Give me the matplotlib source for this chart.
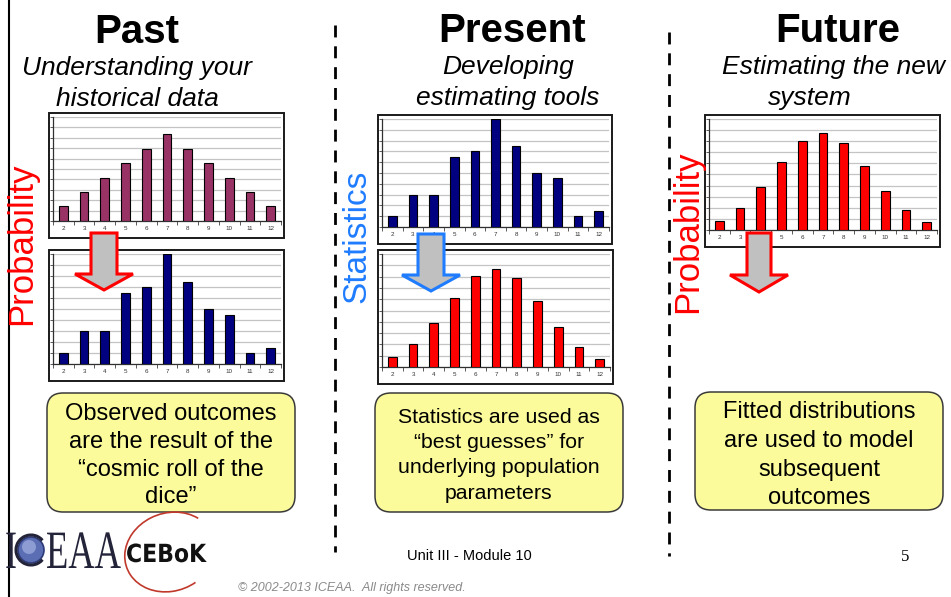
import matplotlib
matplotlib.use("Agg")
import matplotlib.pyplot as plt
import numpy as np
from matplotlib.patches import Rectangle, FancyBboxPatch, Polygon, Circle, Arc, PathPatch
from matplotlib.textpath import TextPath
from matplotlib.font_manager import FontProperties
from matplotlib.transforms import Affine2D

plt.rcParams['font.family'] = ['Liberation Sans', 'DejaVu Sans']

# ---- data -------------------------------------------------------------
dice_sums = ['2', '3', '4', '5', '6', '7', '8', '9', '10', '11', '12']
# theoretical probabilities of the sum of two dice
historical = [0.028, 0.056, 0.083, 0.111, 0.139, 0.167, 0.139, 0.111, 0.083, 0.056, 0.028]
# observed relative frequencies (100 rolls)
observed = [0.02, 0.06, 0.06, 0.13, 0.14, 0.20, 0.15, 0.10, 0.09, 0.02, 0.03]
# fitted distribution
fitted = [0.017, 0.040, 0.077, 0.122, 0.161, 0.174, 0.157, 0.116, 0.071, 0.036, 0.015]

W, H = 951, 597
fig = plt.figure(figsize=(W / 100, H / 100), dpi=100)
fig.patch.set_facecolor('white')


def overlay(z):
    ax = fig.add_axes([0, 0, 1, 1], zorder=z)
    ax.set_xlim(0, W)
    ax.set_ylim(H, 0)
    ax.axis('off')
    return ax


bg = overlay(0)
fg = overlay(5)


def frac(x0, y0, x1, y1):
    return [x0 / W, 1 - y1 / H, (x1 - x0) / W, (y1 - y0) / H]


def bar_panel(box, values, color):
    x0, y0, x1, y1 = box
    bg.add_patch(Rectangle((x0, y0), x1 - x0, y1 - y0, facecolor='white',
                           edgecolor='#1a1a1a', lw=1.4, zorder=3))
    ax = fig.add_axes(frac(x0 + 4, y0 + 4, x1 - 3, y1 - 17), zorder=1)
    ax.patch.set_alpha(0)
    pos = np.arange(len(dice_sums))
    ax.bar(pos, values, width=0.42, color=color, edgecolor='black', linewidth=0.8, zorder=3)
    ax.set_xlim(-0.5, len(dice_sums) - 0.5)
    ax.set_ylim(0, 0.2)
    ax.set_yticks(np.linspace(0, 0.2, 11))
    ax.yaxis.grid(True, color='#c4c4c4', lw=0.9)
    ax.set_axisbelow(True)
    ax.tick_params(axis='y', length=2.5, width=0.6, color='#404040',
                   labelleft=False, direction='out')
    ax.set_xticks(pos)
    ax.set_xticklabels(dice_sums, fontsize=4.5, color='#333333')
    ax.set_xticks(np.arange(-0.5, len(dice_sums)), minor=True)
    ax.tick_params(axis='x', which='major', length=0, pad=3.5)
    ax.tick_params(axis='x', which='minor', length=3, width=0.6, color='#404040')
    for s in ('top', 'right'):
        ax.spines[s].set_visible(False)
    for s in ('left', 'bottom'):
        ax.spines[s].set_color('#303030')
        ax.spines[s].set_linewidth(0.9)
    return ax


def down_arrow(xl, xr, yt, yh, hl, hr, ytip, edge):
    xc = (xl + xr) / 2
    pts = [(xl, yt), (xr, yt), (xr, yh), (hr, yh), (xc, ytip), (hl, yh), (xl, yh)]
    fg.add_patch(Polygon(pts, closed=True, facecolor='#c0c0c0', edgecolor=edge,
                         lw=2.2, joinstyle='miter', zorder=6))


def callout(x0, y0, x1, y1, lines, baselines, size):
    bg.add_patch(FancyBboxPatch((x0, y0), x1 - x0, y1 - y0,
                                boxstyle='round,pad=0,rounding_size=16',
                                facecolor='#fbfb9c', edgecolor='#3a3a3a', lw=1.1, zorder=4))
    xc = (x0 + x1) / 2
    for txt, yb in zip(lines, baselines):
        bg.text(xc, yb, txt, ha='center', va='baseline', fontsize=size,
                color='black', zorder=5)


# ---- frame and separators ------------------------------------------
bg.plot([9, 9], [0, H], color='black', lw=1.5, zorder=2)
bg.plot([334.5, 334.5], [25, 552], color='black', lw=2, linestyle=(0, (4.3, 3.2)), zorder=2)
bg.plot([668.5, 668.5], [32, 556], color='black', lw=2, linestyle=(0, (4.3, 3.2)), zorder=2)

# ---- headings ---------------------------------------------------------
for x, yb, t in [(137, 43, 'Past'), (512, 42, 'Present'), (838, 42, 'Future')]:
    bg.text(x, yb, t, ha='center', va='baseline', fontsize=29, fontweight='bold')

sub = dict(va='baseline', fontsize=19, style='italic')
bg.text(137, 75, 'Understanding your', ha='center', **sub)
bg.text(137, 106, 'historical data', ha='center', **sub)
bg.text(508, 74, 'Developing', ha='center', **sub)
bg.text(508, 105, 'estimating tools', ha='center', **sub)
bg.text(722, 74, 'Estimating the new', ha='left', **sub)
bg.text(810, 105, 'system', ha='center', **sub)

# ---- bar charts -----------------------------------------------------
bar_panel((49, 113, 284, 238), historical, '#993366')
bar_panel((49, 250, 284, 381), observed, '#000080')
bar_panel((378, 115, 612, 244), observed, '#000080')
bar_panel((378, 250, 613, 384), fitted, '#ff0000')
bar_panel((705, 115, 940, 247), fitted, '#ff0000')

# ---- arrows -----------------------------------------------------------
down_arrow(91, 117, 233, 274, 75, 133, 290, '#ff0000')
down_arrow(418, 444, 234, 275, 402, 460, 291, '#1f7cff')
down_arrow(747, 771, 233, 275, 730, 788, 292, '#ff0000')

# ---- side labels -----------------------------------------------------
fg.text(22, 244, 'Probability', rotation=90, ha='center', va='center',
        fontsize=25, color='#ff0000', zorder=7)
fg.text(357, 236, 'Statistics', rotation=90, ha='center', va='center',
        fontsize=24, color='#1f7cff', zorder=7)
fg.text(688, 232, 'Probability', rotation=90, ha='center', va='center',
        fontsize=25, color='#ff0000', zorder=7)

# ---- callouts ---------------------------------------------------------
callout(47, 393, 295, 512,
        ['Observed outcomes', 'are the result of the', '\u201ccosmic roll of the', 'dice\u201d'],
        [420, 448, 476, 503], 17)
callout(375, 393, 623, 512,
        ['Statistics are used as', '\u201cbest guesses\u201d for', 'underlying population', 'parameters'],
        [423, 448, 473, 499], 15.3)
callout(695, 392, 943, 510,
        ['Fitted distributions', 'are used to model', 'subsequent', 'outcomes'],
        [418, 447, 476, 504], 17)

# ---- footer -----------------------------------------------------------
bg.text(469, 560, 'Unit III - Module 10', ha='center', va='baseline', fontsize=10.5)
bg.text(905, 561, '5', ha='center', va='baseline', fontsize=12, family='Liberation Serif')
bg.text(352, 591, '\u00a9 2002-2013 ICEAA.  All rights reserved.', ha='center',
        va='baseline', fontsize=9, style='italic', color='#8a8a8a')


def stretched_text(s, x0, baseline, sx, sy, color, prop):
    path = TextPath((0, 0), s, size=1, prop=prop)
    tr = Affine2D().scale(sx, -sy).translate(x0, baseline) + bg.transData
    bg.add_patch(PathPatch(path, transform=tr, facecolor=color, edgecolor='none', zorder=6))


serif = FontProperties(family='Liberation Serif')
heavy = FontProperties(family='DejaVu Sans', weight='bold')
stretched_text('I', 5, 568, 36, 54, '#23233a', serif)
bg.add_patch(Circle((31, 550), 13, facecolor='#5b6db3', edgecolor='#2c3a78', lw=1.2, zorder=6))
bg.add_patch(Circle((29, 547), 7, facecolor='#9aa8dc', edgecolor='none', alpha=0.8, zorder=6))
bg.add_patch(Arc((31, 550), 30, 30, theta1=40, theta2=320, color='#23233a', lw=2.2, zorder=6))
stretched_text('EAA', 46, 568, 36.5, 54, '#23233a', serif)
bg.add_patch(Arc((170, 552), 92, 78, angle=-20, theta1=70, theta2=330,
                 color='#c0392b', lw=1.2, zorder=5))
stretched_text('CEBoK', 126, 562, 22, 25, '#111111', heavy)

fig.savefig('out.png', dpi=100, facecolor='white')
